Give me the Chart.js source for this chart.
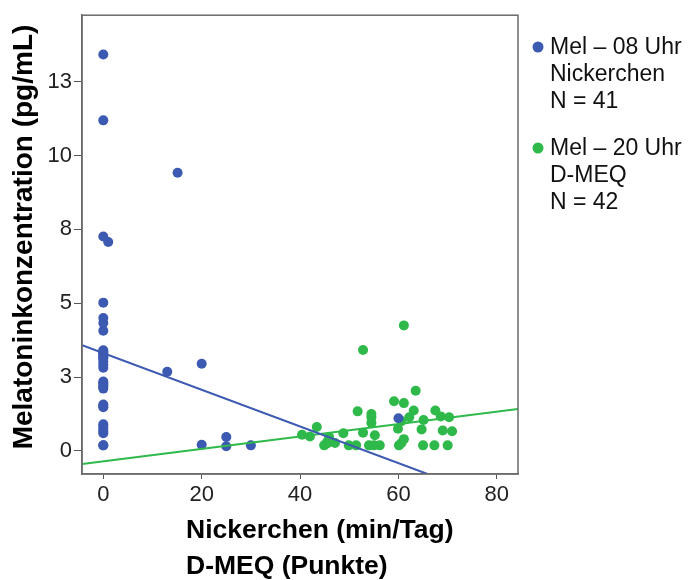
<!DOCTYPE html>
<html>
<head>
<meta charset="utf-8">
<script src="https://cdn.jsdelivr.net/npm/chart.js@4.4.1/dist/chart.umd.min.js"></script>
<style>
  body { margin: 0; background: #fff; }
  #wrap { width: 690px; height: 580px; }
</style>
</head>
<body>
<div id="wrap"><canvas id="melChart" width="690" height="580"></canvas></div>
<script>
// Mel 08 Uhr vs. Nickerchen (min/Tag)
const blueX = [0, 0, 0, 0, 0, 0, 0, 0, 0, 0, 0, 0, 0, 0, 0, 0, 0, 0, 0, 0, 0, 0, 0, 0, 0, 0, 0, 0, 0, 0, 0, 0,
  1, 15.1, 13, 20, 20, 25, 25, 30, 60];
const blueY = [13.42, 11.19, 7.26, 5.02, 4.50, 4.33, 4.07, 3.41, 3.36, 3.32, 3.27, 3.22, 3.17, 3.12, 3.02, 2.92,
  2.82, 2.35, 2.29, 2.23, 2.17, 2.11, 1.57, 1.52, 1.48, 0.90, 0.83, 0.75, 0.67, 0.60, 0.19, 0.19,
  7.07, 9.42, 2.68, 2.95, 0.21, 0.47, 0.16, 0.19, 1.11];

// Mel 20 Uhr vs. D-MEQ (Punkte)
const greenX = [61.1, 52.8, 63.5, 59.1, 61.1, 51.7, 63.1, 67.5, 54.5, 62.2, 68.6, 70.3, 54.5, 65.1, 60.6,
  43.4, 59.9, 64.7, 69, 70.9, 40.4, 42, 48.8, 52.8, 45.9, 55.2, 61.1, 44.9, 45.5, 47.1, 49.9, 51.4,
  54, 55, 56.2, 60.1, 65, 67.3, 70, 60.6, 54.5, 45.5];
const greenY = [4.25, 3.42, 2.04, 1.68, 1.62, 1.34, 1.37, 1.37, 1.14, 1.14, 1.17, 1.14, 0.95, 1.05, 1.01,
  0.81, 0.75, 0.73, 0.69, 0.67, 0.55, 0.49, 0.60, 0.62, 0.47, 0.53, 0.40, 0.19, 0.25, 0.27, 0.19, 0.19,
  0.19, 0.19, 0.19, 0.19, 0.19, 0.19, 0.19, 0.27, 1.25, 0.30];

// fit lines, endpoints
const blueFitX = [-4.3, 65.9];
const blueFitY = [3.58, -0.78];
const greenFitX = [-4.3, 84.3];
const greenFitY = [-0.44, 1.42];

const xTickValues = [0, 20, 40, 60, 80];
const yTickValues = [0, 2.5, 5, 7.5, 10, 12.5];

const legendLines = [
  ['Mel \u2013 08 Uhr', 'Nickerchen', 'N = 41'],
  ['Mel \u2013 20 Uhr', 'D-MEQ', 'N = 42']
];
const xTitleLines = ['Nickerchen (min/Tag)', 'D-MEQ (Punkte)'];
const yTitle = 'Melatoninkonzentration (pg/mL)';

const BLUE = '#3d5ab2';
const GREEN = '#2fb94a';
const FONT = '"Liberation Sans", Arial, sans-serif';

const pts = (xs, ys) => xs.map((x, i) => ({ x: x, y: ys[i] }));

const extras = {
  id: 'extras',
  afterDraw(chart) {
    const ctx = chart.ctx;
    const a = chart.chartArea;
    ctx.save();
    // frame
    ctx.strokeStyle = '#6b6b6b';
    ctx.lineWidth = 1.5;
    ctx.strokeRect(a.left, a.top, a.right - a.left, a.bottom - a.top);

    // y title
    ctx.fillStyle = '#000';
    ctx.font = 'bold 28px ' + FONT;
    ctx.textAlign = 'center';
    ctx.textBaseline = 'middle';
    ctx.translate(24, 237);
    ctx.rotate(-Math.PI / 2);
    ctx.fillText(yTitle, 0, 0);
    ctx.restore();

    // x title, left aligned
    ctx.save();
    ctx.fillStyle = '#000';
    ctx.font = 'bold 26.5px ' + FONT;
    ctx.textAlign = 'left';
    ctx.textBaseline = 'middle';
    xTitleLines.forEach((t, i) => ctx.fillText(t, 186, 531 + i * 36));

    // legend
    ctx.font = '23px ' + FONT;
    const colors = [BLUE, GREEN];
    const tops = [47, 148];
    legendLines.forEach((lines, k) => {
      ctx.fillStyle = colors[k];
      ctx.beginPath();
      ctx.arc(538, tops[k], 5.5, 0, Math.PI * 2);
      ctx.fill();
      ctx.fillStyle = '#111';
      lines.forEach((t, i) => ctx.fillText(t, 550, tops[k] + 1 + i * 27));
    });
    ctx.restore();
  }
};

new Chart(document.getElementById('melChart'), {
  type: 'scatter',
  data: {
    datasets: [
      { label: 'fit08', type: 'line', data: pts(blueFitX, blueFitY), borderColor: BLUE,
        borderWidth: 2, pointRadius: 0, fill: false, order: 0 },
      { label: 'fit20', type: 'line', data: pts(greenFitX, greenFitY), borderColor: GREEN,
        borderWidth: 2, pointRadius: 0, fill: false, order: 0 },
      { label: legendLines[0][0], data: pts(blueX, blueY), backgroundColor: BLUE,
        pointRadius: 5, pointBorderWidth: 0, order: 1 },
      { label: legendLines[1][0], data: pts(greenX, greenY), backgroundColor: GREEN,
        pointRadius: 5, pointBorderWidth: 0, order: 1 }
    ]
  },
  options: {
    responsive: false,
    animation: false,
    layout: { padding: { left: 0, right: 172, top: 11, bottom: 0 } },
    plugins: { legend: { display: false }, tooltip: { enabled: false } },
    scales: {
      x: {
        type: 'linear',
        min: -4.33,
        max: 84.3,
        afterBuildTicks: s => { s.ticks = xTickValues.map(v => ({ value: v })); },
        afterFit: s => { s.height = 106; },
        ticks: { font: { family: FONT, size: 22 }, color: '#222', padding: 3 },
        grid: { drawOnChartArea: false, tickLength: 5, color: '#555' },
        border: { color: '#6b6b6b', width: 1.5 }
      },
      y: {
        min: -0.78,
        max: 14.75,
        afterBuildTicks: s => { s.ticks = yTickValues.map(v => ({ value: v })); },
        afterFit: s => { s.width = 82; },
        ticks: { font: { family: FONT, size: 22 }, color: '#222', padding: 2,
          callback: v => Math.round(v) },
        grid: { drawOnChartArea: false, tickLength: 8, color: '#555' },
        border: { color: '#6b6b6b', width: 1.5 }
      }
    }
  },
  plugins: [extras]
});
</script>
</body>
</html>
